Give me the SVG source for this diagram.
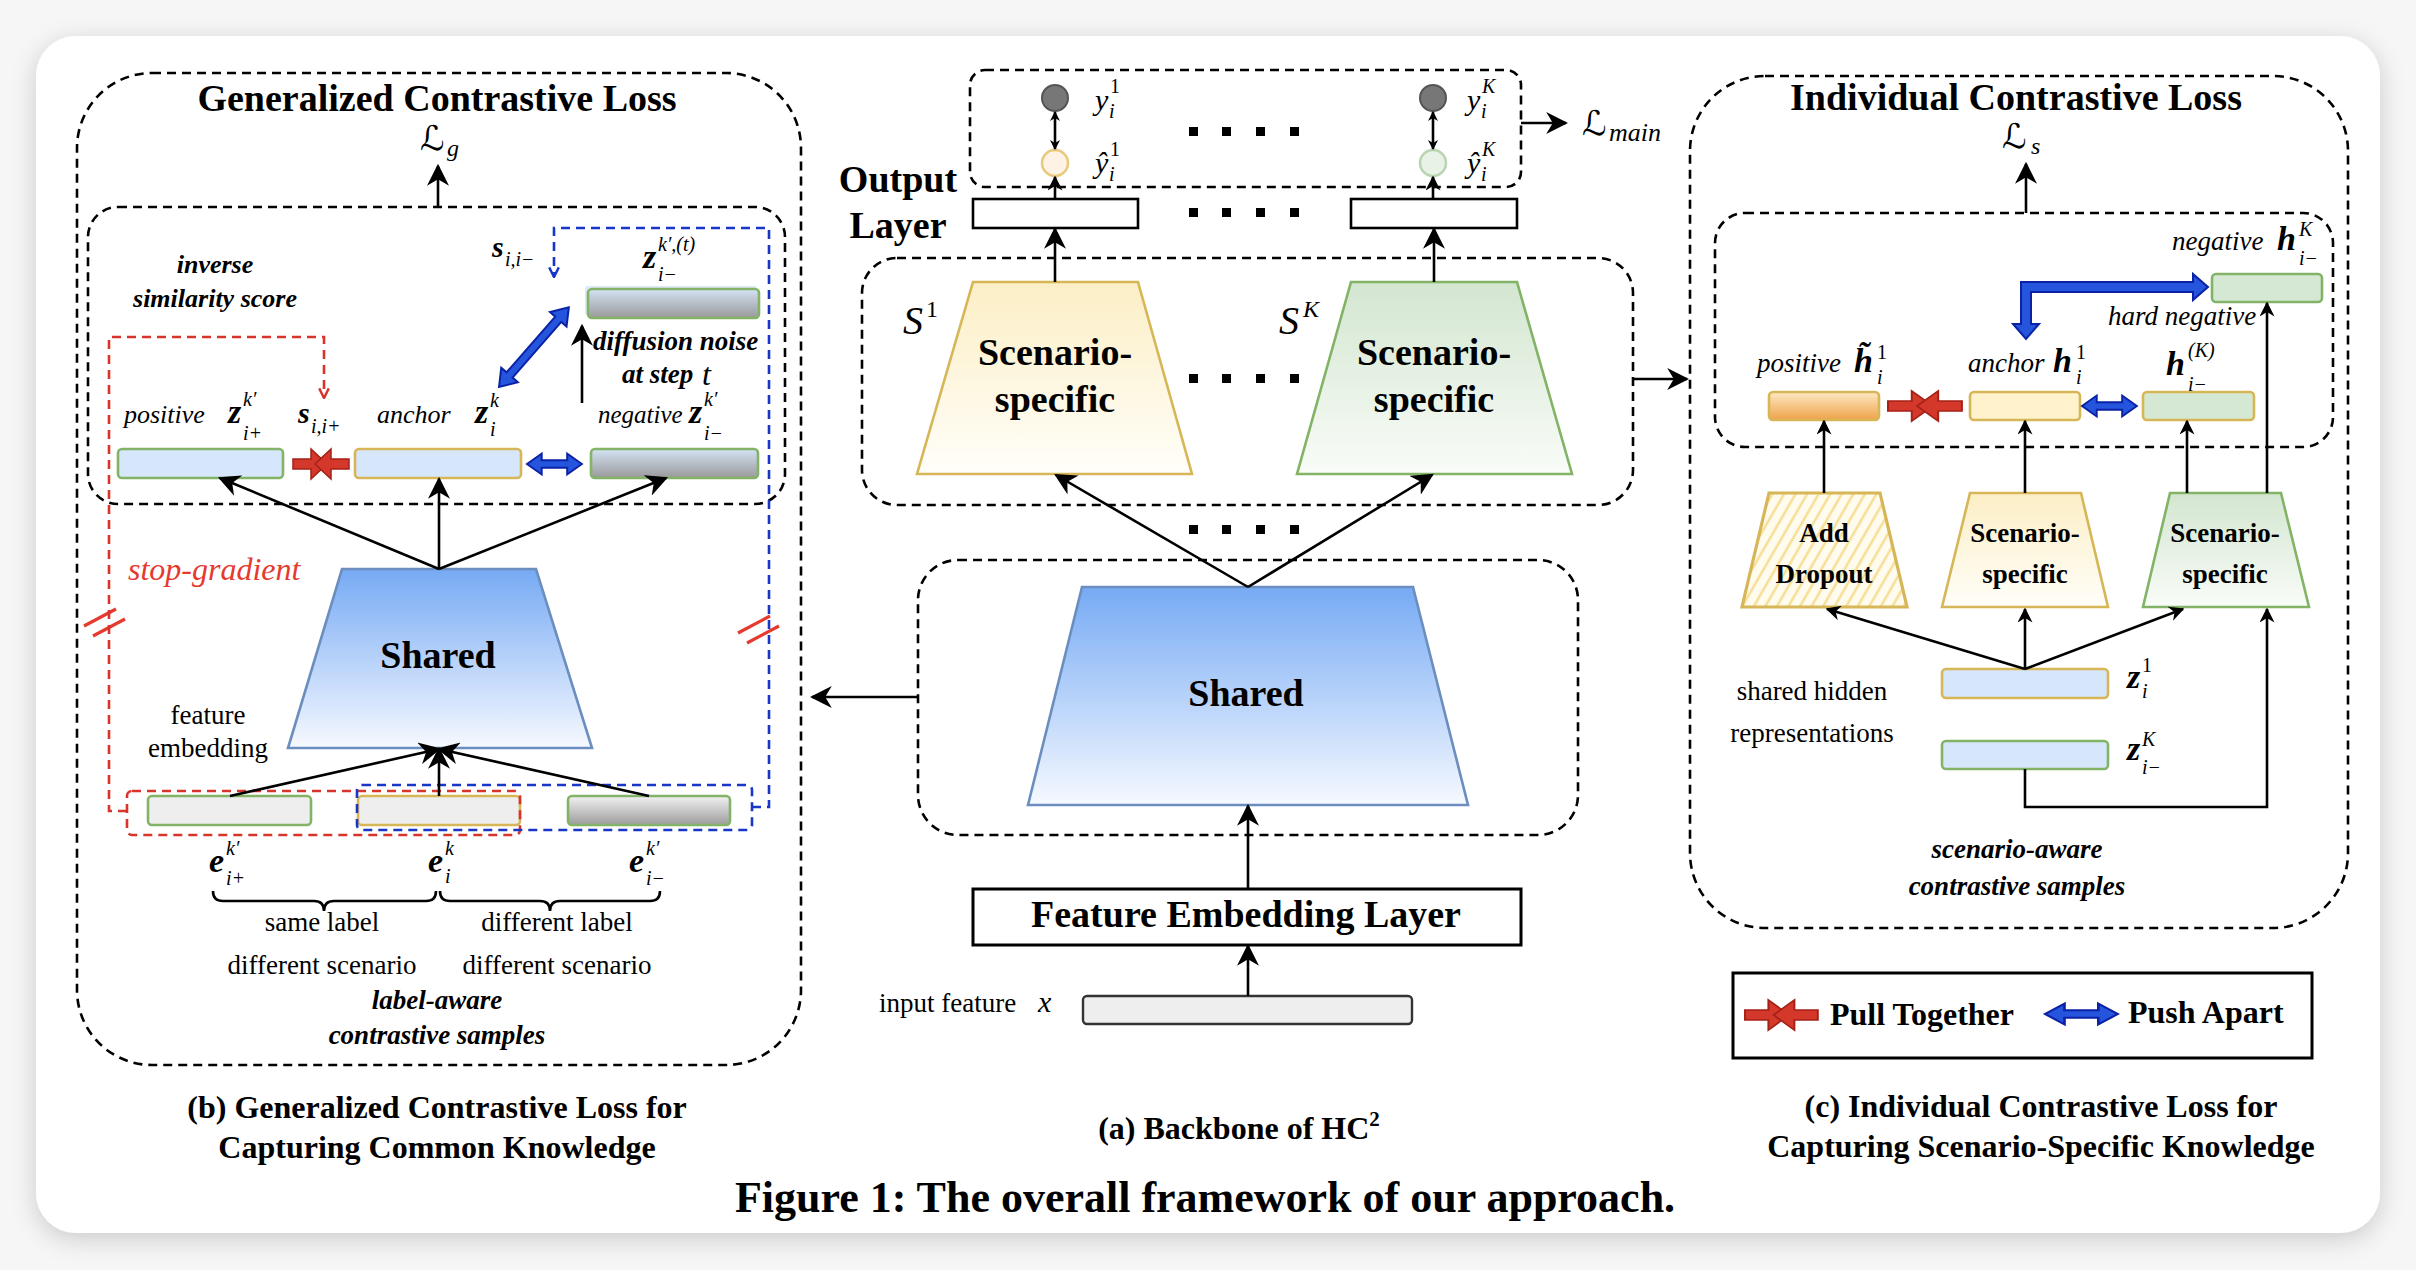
<svg xmlns="http://www.w3.org/2000/svg" width="2416" height="1270" viewBox="0 0 2416 1270">
<defs>
<style>
.f{font-family:"Liberation Serif","Times New Roman",serif;fill:#000}
.b{font-weight:bold}
.it{font-style:italic}
.bi{font-style:italic;font-weight:bold}
.c{text-anchor:middle}
.m{font-family:"DejaVu Serif","DejaVu Sans",serif;font-style:italic;fill:#000}
.sc{font-size:20px}
.mv{font-size:34px}
.dash{fill:none;stroke:#000;stroke-width:2.6;stroke-dasharray:9 6}
.ln{fill:none;stroke:#000;stroke-width:2.6}
.rd{fill:none;stroke:#d9342b;stroke-width:2.6;stroke-dasharray:9 6}
.bd{fill:none;stroke:#1836c8;stroke-width:2.6;stroke-dasharray:9 6}
.lb{fill:#d6e6fb}
.lg{fill:#eeeeee}
.sg{stroke:#82b366;stroke-width:2.6}
.sy{stroke:#d6b656;stroke-width:2.6}
.pull polygon{fill:#d4382b;stroke:#a52016;stroke-width:1.5}
.push polygon{fill:#2455dc;stroke:#0b22a6;stroke-width:2}
</style>
<linearGradient id="gBlue" x1="0" y1="0" x2="0" y2="1"><stop offset="0" stop-color="#76aaf4"/><stop offset="1" stop-color="#f6f9ff"/></linearGradient>
<linearGradient id="gYel" x1="0" y1="0" x2="0" y2="1"><stop offset="0" stop-color="#fcefc6"/><stop offset="1" stop-color="#fffef9"/></linearGradient>
<linearGradient id="gGrn" x1="0" y1="0" x2="0" y2="1"><stop offset="0" stop-color="#d3e6d0"/><stop offset="1" stop-color="#f9fcf8"/></linearGradient>
<linearGradient id="gGray" x1="0" y1="0" x2="0" y2="1"><stop offset="0" stop-color="#f2f2f2"/><stop offset="1" stop-color="#9c9c9c"/></linearGradient>
<linearGradient id="gGrayB" x1="0" y1="0" x2="0" y2="1"><stop offset="0" stop-color="#d3e2f4"/><stop offset="1" stop-color="#9a9a9a"/></linearGradient>
<linearGradient id="gOra" x1="0" y1="0" x2="0" y2="1"><stop offset="0" stop-color="#fde9c4"/><stop offset="1" stop-color="#eea24a"/></linearGradient>
<pattern id="hatch" patternUnits="userSpaceOnUse" width="10" height="10" patternTransform="rotate(30)"><rect width="10" height="10" fill="#fffcef"/><line x1="2" y1="0" x2="2" y2="10" stroke="#f6df95" stroke-width="2.5"/></pattern>
<filter id="shadow" x="-5%" y="-5%" width="110%" height="112%"><feDropShadow dx="0" dy="6" stdDeviation="12" flood-color="#000" flood-opacity="0.18"/></filter>
<marker id="ah" viewBox="0 0 10 10" refX="9" refY="5" markerWidth="15" markerHeight="15" markerUnits="userSpaceOnUse" orient="auto"><path d="M0,0 L10,5 L0,10 L3,5 Z" fill="#000"/></marker>
<marker id="ahb" viewBox="0 0 10 10" refX="9" refY="5" markerWidth="22" markerHeight="22" markerUnits="userSpaceOnUse" orient="auto"><path d="M0,0 L10,5 L0,10 L3,5 Z" fill="#000"/></marker>
<marker id="ahs" viewBox="0 0 10 10" refX="9" refY="5" markerWidth="10" markerHeight="10" markerUnits="userSpaceOnUse" orient="auto-start-reverse"><path d="M0,0 L10,5 L0,10 L3,5 Z" fill="#000"/></marker>
<marker id="ahr" viewBox="0 0 10 10" refX="9" refY="5" markerWidth="12" markerHeight="12" markerUnits="userSpaceOnUse" orient="auto"><path d="M1,1 L9,5 L1,9" fill="none" stroke="#d9342b" stroke-width="2"/></marker>
<marker id="ahbl" viewBox="0 0 10 10" refX="9" refY="5" markerWidth="12" markerHeight="12" markerUnits="userSpaceOnUse" orient="auto"><path d="M1,1 L9,5 L1,9" fill="none" stroke="#1836c8" stroke-width="2"/></marker>
<g id="pull" class="pull"><polygon points="0,-5 18,-5 18,-15 34,0 18,15 18,5 0,5"/><polygon points="56,-5 38,-5 38,-15 22,0 38,15 38,5 56,5"/></g>
<g id="push" class="push"><polygon points="0,0 15,-11 15,-4 41,-4 41,-11 56,0 41,11 41,4 15,4 15,11"/></g>
</defs>

<rect width="2416" height="1270" fill="#f6f6f6"/>
<rect x="36" y="36" width="2344" height="1197" rx="40" fill="#ffffff" filter="url(#shadow)"/>

<!-- ============ PANEL (b) ============ -->
<g id="panel-b">
<rect class="dash" x="77" y="73" width="724" height="992" rx="75"/>
<text class="f b c" x="437" y="111" font-size="38">Generalized Contrastive Loss</text>
<text class="m" x="420" y="150" font-size="34">ℒ</text><text class="f it" x="447" y="156" font-size="24">g</text>
<rect class="dash" x="88" y="207" width="697" height="297" rx="30"/>
<text class="f bi c" x="215" y="273" font-size="26">inverse</text>
<text class="f bi c" x="215" y="307" font-size="26">similarity score</text>
<text class="f bi" x="492" y="257" font-size="30">s</text><text class="f it sc" x="505" y="266">i,i−</text>
</g>

<g id="node-noisy-neg">
<rect x="585" y="286" width="172" height="29" rx="3" fill="#cfe0f6" opacity="0.7"/>
<rect x="588" y="289" width="171" height="29" rx="4" fill="url(#gGrayB)" class="sg"/>
<text class="f bi mv" x="643" y="268">z</text><text class="f it sc" x="658" y="251">k′,(t)</text><text class="f it sc" x="658" y="281">i−</text>
</g>
<g id="label-diffusion">
<text class="f bi" x="593" y="350" font-size="27">diffusion noise</text>
<text class="f bi" x="622" y="383" font-size="27">at step</text><text class="f it" x="702" y="385" font-size="32">t</text>
</g>

<g id="node-pos-z">
<rect x="118" y="449" width="165" height="29" rx="4" class="lb sg"/>
<text class="f it" x="124" y="423" font-size="26">positive</text>
<text class="f bi mv" x="228" y="423">z</text><text class="f it sc" x="243" y="406">k′</text><text class="f it sc" x="243" y="440">i+</text>
</g>
<g id="label-sii">
<text class="f bi" x="298" y="423" font-size="30">s</text><text class="f it sc" x="311" y="433">i,i+</text>
</g>
<g id="node-anchor-z">
<rect x="355" y="449" width="166" height="29" rx="4" class="lb sy"/>
<text class="f it" x="377" y="423" font-size="26">anchor</text>
<text class="f bi mv" x="475" y="423">z</text><text class="f it sc" x="490" y="407">k</text><text class="f it sc" x="490" y="436">i</text>
</g>
<g id="node-neg-z">
<rect x="591" y="449" width="167" height="29" rx="4" fill="url(#gGrayB)" class="sg"/>
<text class="f it" x="598" y="423" font-size="25">negative</text>
<text class="f bi mv" x="689" y="423">z</text><text class="f it sc" x="704" y="406">k′</text><text class="f it sc" x="704" y="440">i−</text>
</g>
<use href="#pull" transform="translate(293,464)"/>
<use href="#push" transform="translate(527,464) scale(0.98,0.95)"/>
<g id="push-diag" class="push"><polygon transform="translate(499,387) rotate(-48.8)" points="0,0 16,-11 16,-4 90,-4 90,-11 106,0 90,11 90,4 16,4 16,11"/></g>

<g id="node-shared-b">
<polygon points="342,569 536,569 592,748 288,748" fill="url(#gBlue)" stroke="#6c8ebf" stroke-width="2.6"/>
<text class="f b c" x="438" y="668" font-size="38">Shared</text>
</g>
<text class="f it" x="128" y="580" font-size="32" style="fill:#e53a2f">stop-gradient</text>
<g id="sg-marks" stroke="#e53a2f" stroke-width="3.2" fill="none">
<line x1="84" y1="626" x2="116" y2="609"/><line x1="93" y1="636" x2="125" y2="619"/>
<line x1="738" y1="633" x2="770" y2="616"/><line x1="747" y1="643" x2="779" y2="626"/>
</g>
<text class="f c" x="208" y="724" font-size="27">feature</text>
<text class="f c" x="208" y="757" font-size="27">embedding</text>

<g id="node-e-pos">
<rect x="148" y="796" width="163" height="29" rx="4" class="lg sg"/>
<text class="f bi mv" x="209" y="872">e</text><text class="f it sc" x="226" y="855">k′</text><text class="f it sc" x="226" y="885">i+</text>
</g>
<g id="node-e-anchor">
<rect x="358" y="796" width="162" height="29" rx="4" class="lg sy"/>
<text class="f bi mv" x="428" y="872">e</text><text class="f it sc" x="445" y="855">k</text><text class="f it sc" x="445" y="883">i</text>
</g>
<g id="node-e-neg">
<rect x="568" y="796" width="162" height="29" rx="4" fill="url(#gGray)" class="sg"/>
<text class="f bi mv" x="629" y="872">e</text><text class="f it sc" x="646" y="855">k′</text><text class="f it sc" x="646" y="885">i−</text>
</g>
<rect class="rd" x="127" y="791" width="393" height="44" rx="5"/>
<rect class="bd" x="357" y="785" width="395" height="45" rx="5"/>

<g id="braces" class="ln" stroke-width="2.4">
<path d="M213,891 Q213,901 223,901 L314,901 Q324,901 324,911 Q324,901 334,901 L426,901 Q436,901 436,891"/>
<path d="M440,891 Q440,901 450,901 L540,901 Q550,901 550,911 Q550,901 560,901 L650,901 Q660,901 660,891"/>
</g>
<text class="f c" x="322" y="931" font-size="27">same label</text>
<text class="f c" x="557" y="931" font-size="27">different label</text>
<text class="f c" x="322" y="974" font-size="27">different scenario</text>
<text class="f c" x="557" y="974" font-size="27">different scenario</text>
<text class="f bi c" x="437" y="1009" font-size="27">label-aware</text>
<text class="f bi c" x="437" y="1044" font-size="27">contrastive samples</text>
<text class="f b c" x="437" y="1118" font-size="32">(b) Generalized Contrastive Loss for</text>
<text class="f b c" x="437" y="1158" font-size="32">Capturing Common Knowledge</text>

<!-- ============ PANEL (a) ============ -->
<g id="group-output">
<rect class="dash" x="970" y="70" width="551" height="117" rx="15"/>
<g id="node-y1"><circle cx="1055" cy="98" r="13" fill="#777" stroke="#555" stroke-width="2"/>
<text class="f it" x="1095" y="110" font-size="30">y</text><text class="f sc" x="1110" y="93">1</text><text class="f it sc" x="1109" y="118">i</text></g>
<g id="node-yhat1"><circle cx="1055" cy="163" r="13" fill="#fdf2e3" stroke="#e8c97a" stroke-width="2.5"/>
<text class="f it" x="1095" y="173" font-size="30">ŷ</text><text class="f sc" x="1110" y="156">1</text><text class="f it sc" x="1109" y="181">i</text></g>
<g id="node-yK"><circle cx="1433" cy="98" r="13" fill="#777" stroke="#555" stroke-width="2"/>
<text class="f it" x="1467" y="110" font-size="30">y</text><text class="f it sc" x="1482" y="93">K</text><text class="f it sc" x="1481" y="118">i</text></g>
<g id="node-yhatK"><circle cx="1433" cy="163" r="13" fill="#e8f2e6" stroke="#b9d4b0" stroke-width="2.5"/>
<text class="f it" x="1467" y="173" font-size="30">ŷ</text><text class="f it sc" x="1482" y="156">K</text><text class="f it sc" x="1481" y="181">i</text></g>
</g>
<g id="dots" fill="#000">
<rect x="1189" y="127" width="9" height="9"/><rect x="1222" y="127" width="9" height="9"/><rect x="1256" y="127" width="9" height="9"/><rect x="1290" y="127" width="9" height="9"/>
<rect x="1189" y="208" width="9" height="9"/><rect x="1222" y="208" width="9" height="9"/><rect x="1256" y="208" width="9" height="9"/><rect x="1290" y="208" width="9" height="9"/>
<rect x="1189" y="374" width="9" height="9"/><rect x="1222" y="374" width="9" height="9"/><rect x="1256" y="374" width="9" height="9"/><rect x="1290" y="374" width="9" height="9"/>
<rect x="1189" y="525" width="9" height="9"/><rect x="1222" y="525" width="9" height="9"/><rect x="1256" y="525" width="9" height="9"/><rect x="1290" y="525" width="9" height="9"/>
</g>
<g id="label-lmain"><text class="m" x="1582" y="135" font-size="34">ℒ</text><text class="f it" x="1609" y="141" font-size="26">main</text></g>
<g id="node-out1"><rect x="973" y="199" width="165" height="29" fill="#fff" stroke="#000" stroke-width="2.6"/></g>
<g id="node-outK"><rect x="1351" y="199" width="166" height="29" fill="#fff" stroke="#000" stroke-width="2.6"/></g>
<text class="f b c" x="898" y="192" font-size="38">Output</text>
<text class="f b c" x="898" y="238" font-size="38">Layer</text>

<rect class="dash" x="862" y="258" width="771" height="247" rx="35"/>
<g id="node-scen1">
<polygon points="973,282 1138,282 1192,474 917,474" fill="url(#gYel)" stroke="#d6b656" stroke-width="2.6"/>
<text class="f b c" x="1055" y="365" font-size="38">Scenario-</text>
<text class="f b c" x="1055" y="412" font-size="38">specific</text>
<text class="f it" x="903" y="334" font-size="40">S</text><text class="f" x="926" y="317" font-size="24">1</text>
</g>
<g id="node-scenK">
<polygon points="1351,282 1517,282 1572,474 1297,474" fill="url(#gGrn)" stroke="#82b366" stroke-width="2.6"/>
<text class="f b c" x="1434" y="365" font-size="38">Scenario-</text>
<text class="f b c" x="1434" y="412" font-size="38">specific</text>
<text class="f it" x="1279" y="334" font-size="40">S</text><text class="f it" x="1303" y="317" font-size="24">K</text>
</g>

<rect class="dash" x="918" y="560" width="660" height="275" rx="40"/>
<g id="node-shared-a">
<polygon points="1082,587 1413,587 1468,805 1028,805" fill="url(#gBlue)" stroke="#6c8ebf" stroke-width="2.6"/>
<text class="f b c" x="1246" y="706" font-size="38">Shared</text>
</g>
<g id="node-fel">
<rect x="973" y="889" width="548" height="56" fill="#fff" stroke="#000" stroke-width="3"/>
<text class="f b c" x="1246" y="927" font-size="38">Feature Embedding Layer</text>
</g>
<g id="node-input">
<rect x="1083" y="996" width="329" height="28" rx="4" fill="#eeeeee" stroke="#333" stroke-width="2.4"/>
<text class="f" x="879" y="1012" font-size="27">input feature</text><text class="f it" x="1038" y="1012" font-size="30">x</text>
</g>
<text class="f b c" x="1239" y="1139" font-size="32">(a) Backbone of HC<tspan font-size="21" dy="-13">2</tspan></text>
<text class="f b c" x="1205" y="1212" font-size="44">Figure 1: The overall framework of our approach.</text>

<!-- ============ PANEL (c) ============ -->
<g id="panel-c">
<rect class="dash" x="1690" y="76" width="658" height="852" rx="75"/>
<text class="f b c" x="2016" y="110" font-size="38">Individual Contrastive Loss</text>
<text class="m" x="2002" y="148" font-size="34">ℒ</text><text class="f it" x="2031" y="154" font-size="24">s</text>
<rect class="dash" x="1715" y="213" width="618" height="234" rx="30"/>
</g>
<g id="node-negK">
<rect x="2212" y="274" width="110" height="28" rx="4" fill="#d5e8d4" class="sg"/>
<text class="f it" x="2172" y="250" font-size="27">negative</text>
<text class="f bi mv" x="2277" y="250">h</text><text class="f it sc" x="2299" y="236">K</text><text class="f it sc" x="2299" y="265">i−</text>
</g>
<text class="f it" x="2108" y="325" font-size="27">hard negative</text>
<g class="push"><polygon points="2021,282 2193,282 2193,274 2208,287 2193,300 2193,292 2031,292 2031,324 2039,324 2026,339 2013,324 2021,324"/></g>
<g id="node-pos-h">
<rect x="1769" y="392" width="110" height="28" rx="4" fill="url(#gOra)" class="sy"/>
<text class="f it" x="1757" y="372" font-size="27">positive</text>
<text class="f bi mv" x="1854" y="372">h̃</text><text class="f sc" x="1877" y="359">1</text><text class="f it sc" x="1877" y="384">i</text>
</g>
<g id="node-anchor-h">
<rect x="1970" y="392" width="110" height="28" rx="4" fill="#fff2cc" class="sy"/>
<text class="f it" x="1968" y="372" font-size="27">anchor</text>
<text class="f bi mv" x="2053" y="372">h</text><text class="f sc" x="2076" y="359">1</text><text class="f it sc" x="2076" y="384">i</text>
</g>
<g id="node-hK">
<rect x="2143" y="392" width="111" height="28" rx="4" fill="#d5e8d4" class="sy"/>
<text class="f bi mv" x="2166" y="375">h</text><text class="f it sc" x="2188" y="357">(K)</text><text class="f it sc" x="2188" y="391">i−</text>
</g>
<use href="#pull" transform="translate(1888,406) scale(1.32,1)"/>
<use href="#push" transform="translate(2082,406) scale(0.98,0.95)"/>

<g id="node-dropout">
<polygon points="1769,493 1880,493 1907,607 1742,607" fill="url(#hatch)" stroke="#d6b656" stroke-width="3.2"/>
<text class="f b c" x="1824" y="542" font-size="27">Add</text>
<text class="f b c" x="1824" y="583" font-size="27">Dropout</text>
</g>
<g id="node-scen1-c">
<polygon points="1970,493 2081,493 2108,607 1942,607" fill="url(#gYel)" stroke="#d6b656" stroke-width="2.6"/>
<text class="f b c" x="2025" y="542" font-size="27">Scenario-</text>
<text class="f b c" x="2025" y="583" font-size="27">specific</text>
</g>
<g id="node-scenK-c">
<polygon points="2170,493 2281,493 2309,607 2143,607" fill="url(#gGrn)" stroke="#82b366" stroke-width="2.6"/>
<text class="f b c" x="2225" y="542" font-size="27">Scenario-</text>
<text class="f b c" x="2225" y="583" font-size="27">specific</text>
</g>
<g id="node-z1">
<rect x="1942" y="669" width="166" height="29" rx="4" class="lb sy"/>
<text class="f bi mv" x="2127" y="688">z</text><text class="f sc" x="2142" y="672">1</text><text class="f it sc" x="2142" y="698">i</text>
</g>
<g id="node-zK">
<rect x="1942" y="741" width="166" height="28" rx="4" class="lb sg"/>
<text class="f bi mv" x="2127" y="760">z</text><text class="f it sc" x="2142" y="746">K</text><text class="f it sc" x="2142" y="774">i−</text>
</g>
<text class="f c" x="1812" y="700" font-size="27">shared hidden</text>
<text class="f c" x="1812" y="742" font-size="27">representations</text>
<text class="f bi c" x="2017" y="858" font-size="27">scenario-aware</text>
<text class="f bi c" x="2017" y="895" font-size="27">contrastive samples</text>

<g id="legend">
<rect x="1733" y="973" width="579" height="85" fill="#fff" stroke="#000" stroke-width="3"/>
<use href="#pull" transform="translate(1745,1015) scale(1.3,1)"/>
<text class="f b" x="1830" y="1025" font-size="32">Pull Together</text>
<use href="#push" transform="translate(2045,1014) scale(1.3,0.95)"/>
<text class="f b" x="2128" y="1023" font-size="32">Push Apart</text>
</g>
<text class="f b c" x="2041" y="1117" font-size="32">(c) Individual Contrastive Loss for</text>
<text class="f b c" x="2041" y="1157" font-size="32">Capturing Scenario-Specific Knowledge</text>

<!-- ============ CONNECTORS ============ -->
<g id="connectors">
<path class="rd" d="M127,811 L109,811 L109,337 L324,337 L324,398" marker-end="url(#ahr)"/>
<path class="bd" d="M752,807 L769,807 L769,228 L554,228 L554,277" marker-end="url(#ahbl)"/>
<line class="ln" x1="438" y1="207" x2="438" y2="166" marker-end="url(#ahb)"/>
<line class="ln" x1="582" y1="403" x2="582" y2="326" marker-end="url(#ahb)"/>
<line class="ln" x1="439" y1="569" x2="220" y2="478" marker-end="url(#ahb)"/>
<line class="ln" x1="439" y1="569" x2="439" y2="479" marker-end="url(#ahb)"/>
<line class="ln" x1="439" y1="569" x2="666" y2="478" marker-end="url(#ahb)"/>
<line class="ln" x1="230" y1="796" x2="439" y2="749" marker-end="url(#ahb)"/>
<line class="ln" x1="439" y1="796" x2="439" y2="749" marker-end="url(#ahb)"/>
<line class="ln" x1="649" y1="796" x2="439" y2="749" marker-end="url(#ahb)"/>
<line class="ln" x1="918" y1="697" x2="812" y2="697" marker-end="url(#ahb)"/>
<line class="ln" x1="1633" y1="379" x2="1687" y2="379" marker-end="url(#ahb)"/>
<line class="ln" x1="1521" y1="123" x2="1566" y2="123" marker-end="url(#ahb)"/>
<line class="ln" stroke-width="2" x1="1055" y1="112" x2="1055" y2="149" marker-start="url(#ahs)" marker-end="url(#ahs)"/>
<line class="ln" stroke-width="2" x1="1433" y1="112" x2="1433" y2="149" marker-start="url(#ahs)" marker-end="url(#ahs)"/>
<line class="ln" stroke-width="2" x1="1055" y1="199" x2="1055" y2="177" marker-end="url(#ah)"/>
<line class="ln" stroke-width="2" x1="1433" y1="199" x2="1433" y2="177" marker-end="url(#ah)"/>
<line class="ln" x1="1055" y1="282" x2="1055" y2="229" marker-end="url(#ahb)"/>
<line class="ln" x1="1434" y1="282" x2="1434" y2="229" marker-end="url(#ahb)"/>
<line class="ln" x1="1248" y1="587" x2="1056" y2="475" marker-end="url(#ahb)"/>
<line class="ln" x1="1248" y1="587" x2="1432" y2="475" marker-end="url(#ahb)"/>
<line class="ln" x1="1248" y1="889" x2="1248" y2="806" marker-end="url(#ahb)"/>
<line class="ln" x1="1248" y1="996" x2="1248" y2="946" marker-end="url(#ahb)"/>
<line class="ln" x1="2026" y1="213" x2="2026" y2="164" marker-end="url(#ahb)"/>
<line class="ln" x1="1824" y1="493" x2="1824" y2="421" marker-end="url(#ah)"/>
<line class="ln" x1="2025" y1="493" x2="2025" y2="421" marker-end="url(#ah)"/>
<line class="ln" x1="2187" y1="493" x2="2187" y2="421" marker-end="url(#ah)"/>
<line class="ln" x1="2267" y1="493" x2="2267" y2="303" marker-end="url(#ah)"/>
<line class="ln" x1="2025" y1="669" x2="1827" y2="609" marker-end="url(#ah)"/>
<line class="ln" x1="2025" y1="669" x2="2025" y2="609" marker-end="url(#ah)"/>
<line class="ln" x1="2025" y1="669" x2="2183" y2="609" marker-end="url(#ah)"/>
<path class="ln" d="M2025,769 L2025,807 L2267,807 L2267,609" marker-end="url(#ah)"/>
</g>
</svg>
